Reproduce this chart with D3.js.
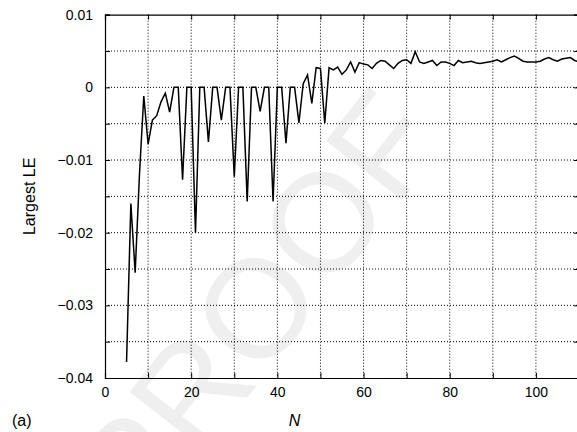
<!DOCTYPE html>
<html>
<head>
<meta charset="utf-8">
<script src="https://cdnjs.cloudflare.com/ajax/libs/d3/7.8.5/d3.min.js"></script>
<style>
body { margin: 0; background: #fff; }
svg { display: block; font-family: "Liberation Sans", Arial, sans-serif; }
</style>
</head>
<body>
<svg></svg>
<script>
// N = 5 .. 110
let nValues = [5,6,7,8,9,10,11,12,13,14,15,16,17,18,19,20,21,22,23,24,25,26,27,28,29,30,
    31,32,33,34,35,36,37,38,39,40,41,42,43,44,45,46,47,48,49,50,51,52,53,54,55,56,57,58,59,60,
    61,62,63,64,65,66,67,68,69,70,71,72,73,74,75,76,77,78,79,80,81,82,83,84,85,86,87,88,89,90,
    91,92,93,94,95,96,97,98,99,100,101,102,103,104,105,106,107,108,109,110];

let leValues = [
    -0.0378, -0.0160, -0.0255, -0.0120, -0.0012, -0.0078, -0.0045, -0.0039, -0.0020, -0.0008, -0.0034,
    0, 0, -0.0127, 0, 0, -0.0200, 0, 0, -0.0075, 0,
    0, -0.0045, 0, 0, -0.0123, 0, 0, -0.0157, 0, 0,
    -0.0033, 0, 0, -0.0157, 0, 0, -0.0077, 0, 0, -0.0049,
    0.0005, 0.0017, -0.0022, 0.0027, 0.0026, -0.0049, 0.0027, 0.0024, 0.0028, 0.0018,
    0.0024, 0.0035, 0.0021, 0.0034, 0.0032, 0.0031, 0.0026, 0.0033, 0.0037, 0.0036,
    0.0031, 0.0026, 0.0033, 0.0037, 0.0038, 0.0033, 0.0049, 0.0035, 0.0033, 0.0035,
    0.0037, 0.0030, 0.0035, 0.0035, 0.0033, 0.0030, 0.0037, 0.0034, 0.0035, 0.0036,
    0.0034, 0.0033, 0.0034, 0.0035, 0.0036, 0.0038, 0.0035, 0.0038, 0.0041, 0.0043,
    0.0040, 0.0036, 0.0035, 0.0035, 0.0035, 0.0036, 0.0039, 0.0041, 0.0038, 0.0036,
    0.0039, 0.0040, 0.0041, 0.0037, 0.0035
];

let xGridTicks = [0,10,20,30,40,50,60,70,80,90,100,110];
let xLabelTicks = [0,20,40,60,80,100];
let yGridTicks = [-0.04,-0.035,-0.03,-0.025,-0.02,-0.015,-0.01,-0.005,0,0.005,0.01];
let yLabelTicks = [-0.04,-0.03,-0.02,-0.01,0,0.01];

let width = 577;
let height = 432;
let plotLeft = 105, plotRight = 579, plotTop = 14.7, plotBottom = 378;

let svg = d3.select('svg')
    .attr('width', width)
    .attr('height', height);

let xScale = d3.scaleLinear().domain([0, 110]).range([plotLeft, plotRight]);
let yScale = d3.scaleLinear().domain([-0.04, 0.01]).range([plotBottom, plotTop]);

// faint watermark
svg.append('text')
    .attr('transform', 'translate(265,315) rotate(-52)')
    .attr('text-anchor', 'middle')
    .attr('dominant-baseline', 'middle')
    .style('font-size', '140px')
    .style('fill', '#efefef')
    .text('PROOF');

// dotted grid
svg.append('g')
    .selectAll('line')
    .data(xGridTicks.filter(d => d > 0 && d < 110))
    .enter()
    .append('line')
    .attr('x1', d => xScale(d)).attr('x2', d => xScale(d))
    .attr('y1', plotTop).attr('y2', plotBottom)
    .attr('stroke', '#000').attr('stroke-width', 1)
    .attr('stroke-dasharray', '1,2');

svg.append('g')
    .selectAll('line')
    .data(yGridTicks.filter(d => d > -0.04 && d < 0.01))
    .enter()
    .append('line')
    .attr('x1', plotLeft).attr('x2', plotRight)
    .attr('y1', d => yScale(d)).attr('y2', d => yScale(d))
    .attr('stroke', '#000').attr('stroke-width', 1)
    .attr('stroke-dasharray', '1,2');

let fmtY = d => {
    let hit = yLabelTicks.some(t => Math.abs(t - d) < 1e-9);
    if (!hit) return '';
    return Math.abs(d) < 1e-9 ? '0' : d3.format('.2f')(d);
}
let fmtX = d => xLabelTicks.includes(d) ? d : '';

let xAxis = d3.axisBottom(xScale).tickValues(xGridTicks).tickSize(-5).tickPadding(9).tickFormat(fmtX);
let yAxis = d3.axisLeft(yScale).tickValues(yGridTicks).tickSize(-5).tickPadding(12).tickFormat(fmtY);
let topAxis = d3.axisTop(xScale).tickValues(xGridTicks).tickSize(-5).tickFormat('');
let rightAxis = d3.axisRight(yScale).tickValues(yGridTicks).tickSize(-5).tickFormat('');

svg.append('g').attr('transform', 'translate(0,' + plotBottom + ')').call(xAxis);
svg.append('g').attr('transform', 'translate(' + plotLeft + ',0)').call(yAxis);
svg.append('g').attr('transform', 'translate(0,' + plotTop + ')').call(topAxis);
svg.append('g').attr('transform', 'translate(' + plotRight + ',0)').call(rightAxis);

svg.selectAll('.domain').attr('stroke', '#000').attr('stroke-width', 1.2);
svg.selectAll('.tick line').attr('stroke', '#000');
svg.selectAll('.tick text')
    .style('font-size', '14px')
    .style('font-family', '"Liberation Sans", Arial, sans-serif')
    .attr('fill', '#000');

// the curve
let line = d3.line()
    .x((d, i) => xScale(nValues[i]))
    .y(d => yScale(d));

svg.append('path')
    .datum(leValues)
    .attr('d', line)
    .attr('fill', 'none')
    .attr('stroke', '#000')
    .attr('stroke-width', 1.5)
    .attr('stroke-linejoin', 'miter');

// labels
svg.append('text')
    .attr('transform', 'translate(35,' + ((plotTop + plotBottom) / 2) + ') rotate(-90)')
    .attr('text-anchor', 'middle')
    .style('font-size', '16px')
    .text('Largest LE');

svg.append('text')
    .attr('x', xScale(44)).attr('y', 426)
    .attr('text-anchor', 'middle')
    .style('font-size', '16px')
    .style('font-style', 'italic')
    .text('N');

svg.append('text')
    .attr('x', 12).attr('y', 426)
    .style('font-size', '16px')
    .text('(a)');
</script>
</body>
</html>
